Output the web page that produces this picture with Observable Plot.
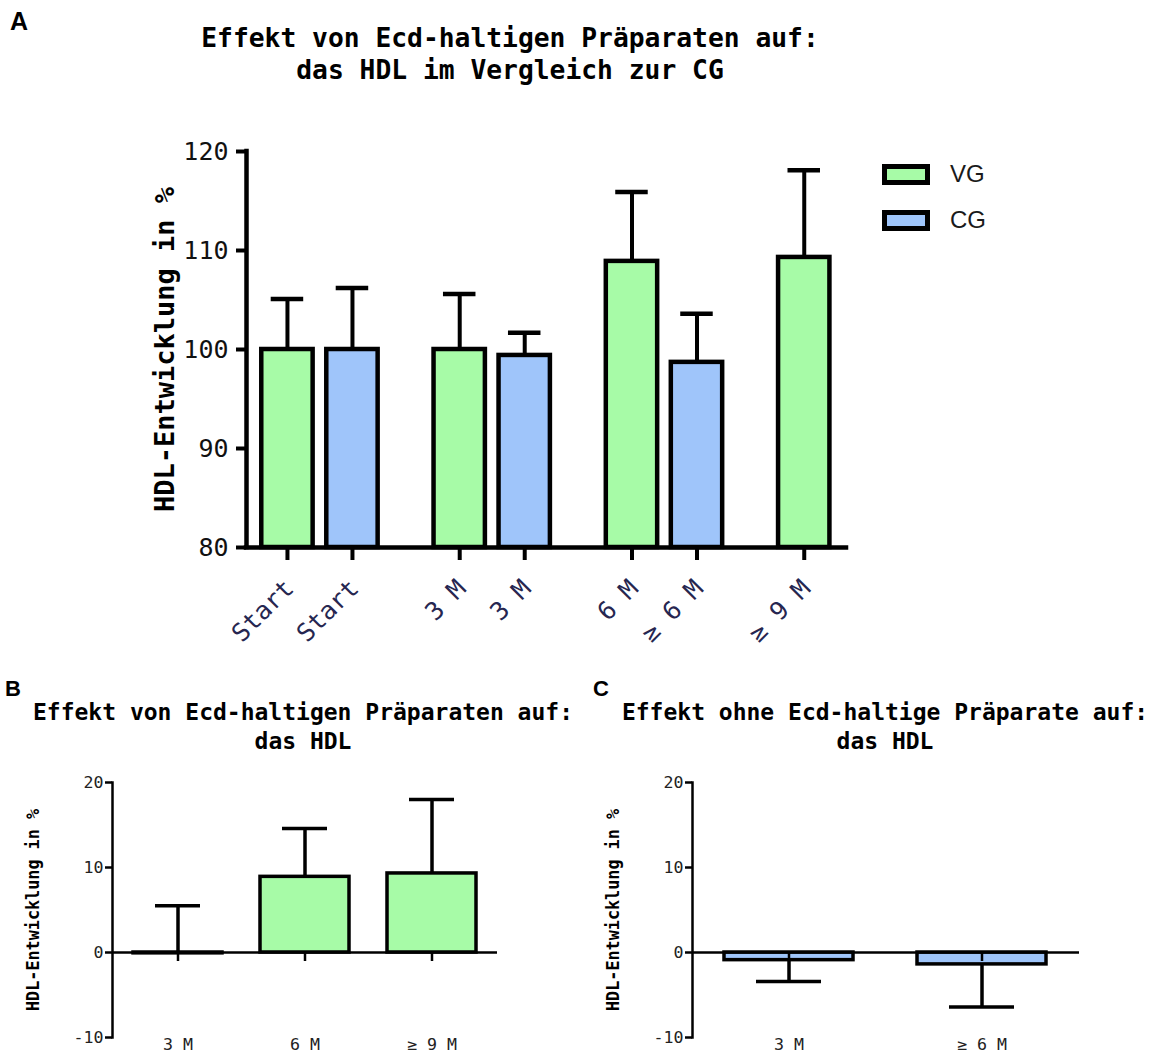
<!DOCTYPE html>
<html>
<head>
<meta charset="utf-8">
<script src="https://cdn.jsdelivr.net/npm/d3@7"></script>
<script src="https://cdn.jsdelivr.net/npm/@observablehq/plot@0.6"></script>
<style>
  html, body { margin: 0; padding: 0; background: #fff; }
  #fig { position: relative; width: 1161px; height: 1054px; overflow: hidden;
         font-family: "DejaVu Sans Mono", monospace; color: #000; }
  .abs { position: absolute; }
  .letter { font-family: "Liberation Sans", Arial, sans-serif; font-weight: bold;
            font-size: 22px; line-height: 22px; }
  .title { font-weight: bold; text-align: center; white-space: pre; }
  .legend-row { position: absolute; display: flex; align-items: center; }
  .swatch { box-sizing: border-box; width: 48px; height: 21px; border: 5px solid #000; }
  .legend-label { font-family: "Liberation Sans", Arial, sans-serif; font-size: 24px;
                  margin-left: 20px; color: #1a1a1a; }
</style>
</head>
<body>
<div id="fig">
  <div class="abs letter" style="left:10px; top:9px; font-size:25px; line-height:25px;">A</div>
  <div class="abs letter" style="left:5px; top:678px;">B</div>
  <div class="abs letter" style="left:593px; top:678px;">C</div>

  <div class="abs title" style="left:110px; width:800px; top:22px; font-size:26.3px; line-height:32px;">Effekt von Ecd-haltigen Präparaten auf:
das HDL im Vergleich zur CG</div>
  <div class="abs title" style="left:3px; width:600px; top:698px; font-size:23px; line-height:29px;">Effekt von Ecd-haltigen Präparaten auf:
das HDL</div>
  <div class="abs title" style="left:585px; width:600px; top:698px; font-size:23px; line-height:29px;">Effekt ohne Ecd-haltige Präparate auf:
das HDL</div>

  <div id="panelA" class="abs" style="left:0; top:100px;"></div>
  <div id="legendA" class="abs" style="left:882px; top:160px;"></div>
  <div id="panelB" class="abs" style="left:0; top:760px;"></div>
  <div id="panelC" class="abs" style="left:580px; top:760px;"></div>
</div>

<script>
// ---- Panel A: HDL course, verum group (VG) vs. control group (CG) ----
const timeLabelsA = ["Start", "Start", "3 M", "3 M", "6 M", "≥ 6 M", "≥ 9 M"];
const timeGroupA  = [0, 0, 1, 1, 2, 2, 3];
const seriesA     = ["VG", "CG", "VG", "CG", "VG", "CG", "VG"];
const meanA       = [100.0, 100.0, 100.0, 99.4, 108.9, 98.7, 109.3];
const upperA      = [105.1, 106.2, 105.6, 101.7, 115.9, 103.6, 118.1];
const yTicksA     = [80, 90, 100, 110, 120];

// ---- Panel B: change with Ecd preparations (VG) ----
const timeLabelsB = ["3 M", "6 M", "≥ 9 M"];
const meanB       = [-0.1, 8.9, 9.3];
const errEndB     = [5.5, 14.6, 18.0];

// ---- Panel C: change without Ecd preparations (CG) ----
const timeLabelsC = ["3 M", "≥ 6 M"];
const meanC       = [-0.9, -1.4];
const errEndC     = [-3.4, -6.4];

const yTicksSmall = [-10, 0, 10, 20];
const seriesNames = ["VG", "CG"];
const seriesFill  = ["#a7fba7", "#9fc5fa"];
const yLabel      = "HDL-Entwicklung in %";

const FONT = "'DejaVu Sans Mono', monospace";

// bars sit side by side within a time point, time points are separated by a gap
const GROUP_STEP = 2.65;
const rowsA = meanA.map((m, i) => ({
  label: timeLabelsA[i],
  series: seriesA[i],
  mean: m,
  upper: upperA[i],
  pos: timeGroupA[i] * GROUP_STEP + (seriesA[i] === "CG" ? 1 : 0)
}));
const labelAt = new Map(rowsA.map(d => [d.pos, d.label]));
const tickPosA = rowsA.map(d => d.pos);
const xDomA = [-0.63, d3.max(tickPosA) + 0.65];

const chartA = Plot.plot({
  width: 880,
  height: 577,
  marginLeft: 246,
  marginRight: 34,
  marginTop: 51,
  marginBottom: 130,
  style: { fontFamily: FONT, background: "transparent", overflow: "visible" },
  x: { domain: xDomA },
  y: { domain: [80, 120] },
  color: { domain: seriesNames, range: seriesFill },
  marks: [
    Plot.rect(rowsA, {
      x1: d => d.pos - 0.395, x2: d => d.pos + 0.395,
      y1: 80, y2: "mean",
      fill: "series", stroke: "#000", strokeWidth: 4.5
    }),
    Plot.ruleX(rowsA, { x: "pos", y1: "mean", y2: "upper", stroke: "#000", strokeWidth: 4 }),
    Plot.ruleY(rowsA, {
      y: "upper", x1: d => d.pos - 0.25, x2: d => d.pos + 0.25,
      stroke: "#000", strokeWidth: 4.5
    }),
    Plot.ruleY([80], { stroke: "#000", strokeWidth: 4.5, strokeLinecap: "square" }),
    Plot.ruleX([xDomA[0]], { stroke: "#000", strokeWidth: 4.5, strokeLinecap: "square" }),
    Plot.axisY({
      ticks: yTicksA, tickSize: 10, tickPadding: 8, strokeWidth: 4,
      fontSize: 25, label: null, stroke: "#000", fill: "#111"
    }),
    // tick marks under each bar
    Plot.axisX({
      ticks: tickPosA, tickFormat: () => "", tickSize: 13, strokeWidth: 4,
      label: null, stroke: "#000"
    }),
    // slanted category labels
    Plot.axisX({
      ticks: tickPosA, tickFormat: d => labelAt.get(d),
      tickRotate: -45, tickSize: 0, tickPadding: 37,
      fontSize: 25, label: null, fill: "#262650", dx: 2
    }),
    Plot.text([yLabel], {
      frameAnchor: "left", textAnchor: "middle", dx: -81, rotate: -90,
      fontSize: 27, fontWeight: "bold", fill: "#000"
    })
  ]
});
document.getElementById("panelA").appendChild(chartA);

// legend for panel A
const legendA = document.getElementById("legendA");
seriesNames.forEach((name, i) => {
  const row = document.createElement("div");
  row.className = "legend-row";
  row.style.top = (i * 46) + "px";
  const sw = document.createElement("div");
  sw.className = "swatch";
  sw.style.background = seriesFill[i];
  const tx = document.createElement("span");
  tx.className = "legend-label";
  tx.textContent = name;
  row.appendChild(sw);
  row.appendChild(tx);
  legendA.appendChild(row);
});

// ---- small change-from-baseline panels ----
function changePanel({ labels, means, ends, series, paddingInner, capInset, marginRight }) {
  const rows = labels.map((l, i) => ({ label: l, mean: means[i], end: ends[i], series }));
  return Plot.plot({
    width: 520,
    height: 294,
    marginLeft: 112,
    marginRight,
    marginTop: 22,
    marginBottom: 17,
    style: { fontFamily: FONT, background: "transparent", overflow: "visible" },
    x: { domain: labels, paddingInner, paddingOuter: 0.165 },
    y: { domain: [-10, 20] },
    color: { domain: seriesNames, range: seriesFill },
    marks: [
      Plot.barY(rows, { x: "label", y: "mean", fill: "series", stroke: "#000", strokeWidth: 3.5 }),
      Plot.ruleX(rows, { x: "label", y1: "mean", y2: "end", stroke: "#000", strokeWidth: 3.5 }),
      Plot.tickY(rows, {
        x: "label", y: "end", stroke: "#000", strokeWidth: 3.5,
        insetLeft: capInset, insetRight: capInset
      }),
      Plot.ruleY([0], { stroke: "#000", strokeWidth: 2.5 }),
      Plot.ruleX(rows, { x: "label", y1: 0, y2: 0, insetBottom: -9, stroke: "#000", strokeWidth: 2.5 }),
      Plot.frame({ anchor: "left", stroke: "#000", strokeWidth: 2.5 }),
      Plot.axisY({
        ticks: yTicksSmall, tickFormat: d => String(d), tickSize: 7, tickPadding: 2,
        strokeWidth: 2.5, fontSize: 16.6, label: null, stroke: "#000", fill: "#222"
      }),
      Plot.axisX({ tickSize: 0, tickPadding: 1, fontSize: 16.6, label: null, fill: "#222" }),
      Plot.text([yLabel], {
        frameAnchor: "left", textAnchor: "middle", dx: -79, rotate: -90,
        fontSize: 16.8, fontWeight: "bold", fill: "#000"
      })
    ]
  });
}

document.getElementById("panelB").appendChild(changePanel({
  labels: timeLabelsB, means: meanB, ends: errEndB, series: "VG",
  paddingInner: 0.3, capInset: 22, marginRight: 23
}));
document.getElementById("panelC").appendChild(changePanel({
  labels: timeLabelsC, means: meanC, ends: errEndC, series: "CG",
  paddingInner: 0.33, capInset: 32, marginRight: 21
}));
</script>
</body>
</html>
